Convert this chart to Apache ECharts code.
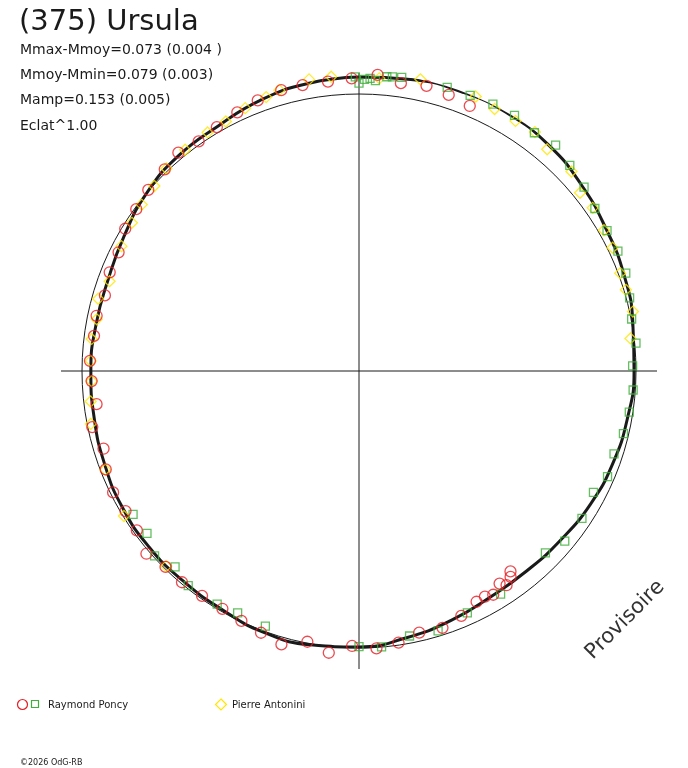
<!DOCTYPE html>
<html>
<head>
<meta charset="utf-8">
<script src="https://cdn.jsdelivr.net/npm/echarts@6/dist/echarts.min.js"></script>
<style>
  html, body { margin: 0; padding: 0; background: #fff; }
  #chart { width: 688px; height: 768px; }
</style>
</head>
<body>
<div id="chart"></div>
<script>
// phase 0..1 runs clockwise from the top, brightness is relative (1 = mean, the thin circle)
var fitPhase = [0.000, 0.028, 0.056, 0.083, 0.111, 0.139, 0.167, 0.194, 0.222, 0.250, 0.278, 0.306,
                0.333, 0.361, 0.389, 0.417, 0.444, 0.472, 0.500, 0.528, 0.556, 0.583, 0.611, 0.639,
                0.667, 0.694, 0.722, 0.750, 0.778, 0.806, 0.833, 0.861, 0.889, 0.917, 0.944, 0.972, 1.000];
var fitFlux  = [1.061, 1.069, 1.074, 1.074, 1.065, 1.047, 1.029, 1.018, 1.004, 0.993, 0.984, 0.975,
                0.964, 0.950, 0.942, 0.944, 0.960, 0.978, 0.996, 1.004, 1.004, 0.993, 0.989, 0.989,
                0.986, 0.978, 0.971, 0.968, 0.964, 0.964, 0.978, 1.000, 1.014, 1.020, 1.040, 1.054, 1.061];

// Raymond Poncy, circles
var poncyCPhase = [0.957, 0.943, 0.930, 0.916, 0.903, 0.890, 0.878, 0.863, 0.850, 0.837, 0.823, 0.810,
                   0.796, 0.783, 0.771, 0.756, 0.744, 0.730, 0.717, 0.703, 0.691, 0.677, 0.664, 0.651,
                   0.637, 0.624, 0.611, 0.597, 0.583, 0.570, 0.557, 0.544, 0.530, 0.517, 0.504, 0.490,
                   0.477, 0.464, 0.450, 0.437, 0.425, 0.419, 0.414, 0.407, 0.404, 0.399, 0.397,
                   0.969, 0.983, 0.996, 0.010, 0.023, 0.037, 0.050, 0.063];
var poncyCFlux  = [1.052, 1.043, 1.032, 1.019, 1.011, 1.023, 1.011, 1.003, 0.994, 0.988, 0.968, 0.968,
                   0.957, 0.968, 0.965, 0.972, 0.966, 0.955, 0.984, 0.964, 0.981, 0.990, 0.983, 0.987,
                   1.012, 0.994, 0.995, 0.990, 0.990, 0.997, 1.009, 1.026, 0.995, 1.023, 0.993, 1.003,
                   0.991, 0.969, 0.975, 0.958, 0.935, 0.933, 0.942, 0.920, 0.939, 0.923, 0.907,
                   1.052, 1.051, 1.057, 1.071, 1.050, 1.058, 1.048, 1.037];

// Raymond Poncy, squares
var poncySPhase = [0.998, 0.000, 0.003, 0.006, 0.009, 0.015, 0.018, 0.023, 0.048, 0.061, 0.074, 0.087,
                   0.101, 0.114, 0.127, 0.141, 0.154, 0.168, 0.181, 0.194, 0.208, 0.220, 0.234, 0.247,
                   0.261, 0.274, 0.287, 0.300, 0.314, 0.326, 0.343, 0.360, 0.373, 0.410, 0.433, 0.453,
                   0.470, 0.487, 0.500, 0.556, 0.574, 0.587, 0.607, 0.620, 0.633, 0.646, 0.660];
var poncySFlux  = [1.062, 1.039, 1.053, 1.057, 1.050, 1.067, 1.069, 1.071, 1.072, 1.073, 1.078, 1.080,
                   1.068, 1.081, 1.063, 1.049, 1.034, 1.029, 1.030, 1.026, 1.012, 1.002, 1.005, 0.988,
                   0.992, 0.987, 0.981, 0.968, 0.975, 0.953, 0.965, 0.964, 0.940, 0.954, 0.957, 0.981,
                   0.974, 0.999, 0.995, 0.981, 0.977, 0.985, 0.990, 0.970, 0.995, 0.964, 0.966];

// Pierre Antonini, diamonds
var antoniniPhase = [0.948, 0.935, 0.922, 0.910, 0.894, 0.879, 0.867, 0.854, 0.842, 0.827, 0.805, 0.793,
                     0.781, 0.769, 0.756, 0.744, 0.732, 0.719, 0.691, 0.662, 0.624, 0.956, 0.973, 0.985,
                     0.011, 0.033, 0.064, 0.076, 0.089, 0.101, 0.112, 0.130, 0.142, 0.153, 0.167, 0.178,
                     0.193, 0.203, 0.216, 0.231];
var antoniniFlux  = [1.044, 1.034, 1.021, 1.020, 1.016, 1.009, 0.996, 0.988, 0.979, 0.969, 0.957, 0.977,
                     0.965, 0.972, 0.969, 0.966, 0.975, 0.987, 0.983, 0.997, 0.990, 1.054, 1.068, 1.067,
                     1.059, 1.076, 1.077, 1.065, 1.065, 1.071, 1.050, 1.052, 1.025, 1.029, 1.020, 1.018,
                     1.007, 1.007, 1.012, 0.987];

var statLines = ['Mmax-Mmoy=0.073 (0.004 )', 'Mmoy-Mmin=0.079 (0.003)', 'Mamp=0.153 (0.005)', 'Eclat^1.00'];

function pairs(ph, fl) {
  return ph.map(function (p, i) { return [fl[i], p]; });
}

var cx = 359, cy = 371;
var outerR = 298, meanR = 277;
var ink = '#1a1a1a';
var red = '#e61e24', green = '#3fae3a', yellow = '#ffe600';
var font = '"DejaVu Sans", Verdana, sans-serif';

var chart = echarts.init(document.getElementById('chart'), null, { renderer: 'canvas' });

var hidden = { axisLine: { show: false }, axisTick: { show: false }, axisLabel: { show: false },
               splitLine: { show: false }, splitArea: { show: false } };

var graphics = [
  { type: 'text', x: 19, y: 22, style: { text: '(375) Ursula', font: '29px ' + font, fill: ink,
    verticalAlign: 'middle', textVerticalAlign: 'middle' } }
];
statLines.forEach(function (s, i) {
  graphics.push({ type: 'text', x: 20, y: 50 + i * 25.3, style: { text: s, font: '14px ' + font, fill: ink,
    verticalAlign: 'middle', textVerticalAlign: 'middle' } });
});
graphics.push(
  { type: 'text', x: 625, y: 620, rotation: Math.PI / 4,
    style: { text: 'Provisoire', font: '21px ' + font, fill: '#333',
      align: 'center', textAlign: 'center', verticalAlign: 'middle', textVerticalAlign: 'middle' } },
  // legend
  { type: 'circle', shape: { cx: 22.5, cy: 704.5, r: 5 }, style: { fill: 'none', stroke: red, lineWidth: 1.2 } },
  { type: 'rect', shape: { x: 31.5, y: 700.5, width: 7, height: 7 }, style: { fill: 'none', stroke: green, lineWidth: 1.2 } },
  { type: 'text', x: 48, y: 705, style: { text: 'Raymond Poncy', font: '10px ' + font, fill: ink,
    verticalAlign: 'middle', textVerticalAlign: 'middle' } },
  { type: 'polygon', shape: { points: [[221, 699], [226.5, 704.5], [221, 710], [215.5, 704.5]] },
    style: { fill: 'none', stroke: yellow, lineWidth: 1.2 } },
  { type: 'text', x: 232, y: 705, style: { text: 'Pierre Antonini', font: '10px ' + font, fill: ink,
    verticalAlign: 'middle', textVerticalAlign: 'middle' } },
  { type: 'text', x: 20, y: 763, style: { text: '\u00a92026 OdG-RB', font: '8px ' + font, fill: ink,
    verticalAlign: 'middle', textVerticalAlign: 'middle' } }
);

var option = {
  animation: false,
  backgroundColor: '#fff',
  polar: [
    { center: [cx, cy], radius: outerR },
    { center: [cx, cy], radius: meanR }
  ],
  angleAxis: [
    Object.assign({}, hidden, {
      polarIndex: 0, type: 'value', min: 0, max: 1, interval: 0.25, startAngle: 90, clockwise: true,
      splitLine: { show: true, lineStyle: { color: ink, width: 1 } }
    }),
    Object.assign({}, hidden, {
      polarIndex: 1, type: 'value', min: 0, max: 1, startAngle: 90, clockwise: true,
      axisLine: { show: true, lineStyle: { color: ink, width: 1 } }
    })
  ],
  radiusAxis: [
    Object.assign({}, hidden, { polarIndex: 0, type: 'value', min: 0, max: outerR / meanR }),
    Object.assign({}, hidden, { polarIndex: 1, type: 'value', min: 0, max: 1 })
  ],
  graphic: graphics,
  series: [
    {
      type: 'line', coordinateSystem: 'polar', polarIndex: 0,
      data: pairs(fitPhase, fitFlux), symbol: 'none', smooth: true,
      lineStyle: { color: ink, width: 3 }, z: 2
    },
    {
      type: 'scatter', coordinateSystem: 'polar', polarIndex: 0, clip: false,
      data: pairs(antoniniPhase, antoniniFlux), symbol: 'diamond', symbolSize: 11,
      itemStyle: { color: 'rgba(0,0,0,0)', borderColor: yellow, borderWidth: 1.3 }, z: 3
    },
    {
      type: 'scatter', coordinateSystem: 'polar', polarIndex: 0, clip: false,
      data: pairs(poncySPhase, poncySFlux), symbol: 'rect', symbolSize: 8,
      itemStyle: { color: 'rgba(0,0,0,0)', borderColor: green, borderWidth: 1.3 }, z: 4
    },
    {
      type: 'scatter', coordinateSystem: 'polar', polarIndex: 0, clip: false,
      data: pairs(poncyCPhase, poncyCFlux), symbol: 'circle', symbolSize: 11,
      itemStyle: { color: 'rgba(0,0,0,0)', borderColor: red, borderWidth: 1.3 }, z: 5
    }
  ]
};

chart.setOption(option);
</script>
</body>
</html>
